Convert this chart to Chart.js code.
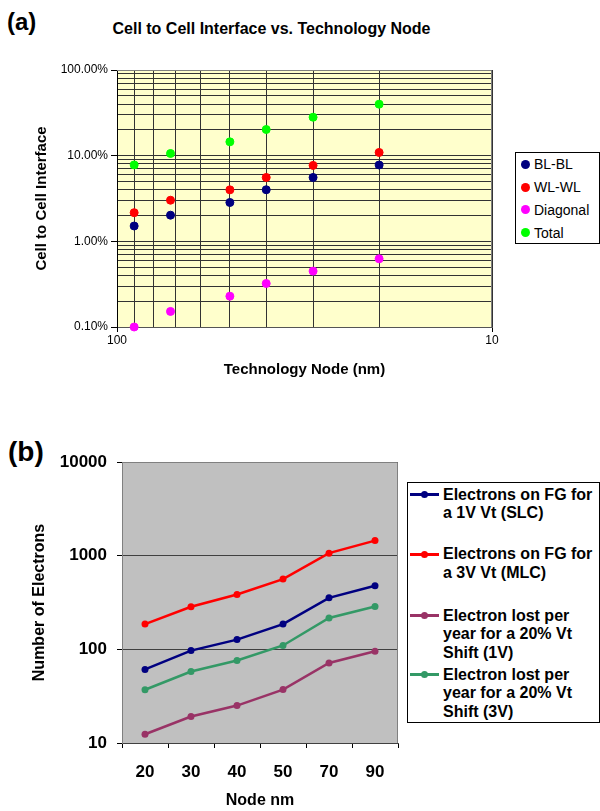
<!DOCTYPE html>
<html>
<head>
<meta charset="utf-8">
<script src="https://cdn.jsdelivr.net/npm/chart.js@4.4.1/dist/chart.umd.min.js"></script>
<style>
  body { margin: 0; background: #fff; font-family: "Liberation Sans", Arial, sans-serif; }
  #wrap { position: relative; width: 600px; height: 811px; overflow: hidden; }
  canvas { position: absolute; left: 0; }
  .tag { position: absolute; font-weight: bold; line-height: 1; color: #000; }
  .title { position: absolute; left: 0; width: 543px; text-align: center; font-weight: bold; font-size: 16px; line-height: 19px; }
  .legend { position: absolute; border: 1px solid #000; background: #fff; box-sizing: border-box; }
  .legend .row { position: absolute; white-space: nowrap; color: #000; }
  .dot { position: absolute; border-radius: 50%; }
  .swatch { position: absolute; height: 3px; }
</style>
</head>
<body>
<div id="wrap">
  <div class="tag" style="left:7px;top:10px;font-size:24px;">(a)</div>
  <div class="title" style="top:19px;">Cell to Cell Interface vs. Technology Node</div>
  <canvas id="chartA" width="600" height="400" style="top:0"></canvas>
  <div class="legend" id="legA" style="left:515px;top:152px;width:85px;height:92px;"></div>

  <div class="tag" style="left:8px;top:438px;font-size:28px;">(b)</div>
  <canvas id="chartB" width="600" height="400" style="top:411px"></canvas>
  <div class="legend" id="legB" style="left:407px;top:482px;width:193px;height:241px;"></div>
</div>
<script>
// ---- chart (a) data: technology node (nm) vs cell to cell interface (%)
const nodesA = [90, 72, 50, 40, 30, 20];
const blbl = [1.51, 2.02, 2.84, 4.0, 5.57, 7.78];
const wlwl = [2.16, 3.02, 3.99, 5.57, 7.7, 10.9];
const diagonal = [0.10, 0.152, 0.229, 0.322, 0.449, 0.625];
const total = [7.8, 10.6, 14.5, 20.2, 28.1, 39.9];
const seriesA = ['BL-BL', 'WL-WL', 'Diagonal', 'Total'];
const yMajorA = [0.1, 1, 10, 100];
const yLabelsA = ['0.10%', '1.00%', '10.00%', '100.00%'];
const xMajorA = [10, 100];
const xLabelsA = ['10', '100'];

// ---- chart (b) data: number of electrons per node
const nodesB = ['20', '30', '40', '50', '70', '90'];
const slc = [61, 97, 127, 186, 355, 477];
const mlc = [186, 285, 385, 562, 1064, 1448];
const lost1V = [12.4, 19.2, 25.1, 37.2, 71.6, 95.2];
const lost3V = [37, 58, 76, 110, 216, 287];
const seriesB = [
  ['Electrons on FG for', 'a 1V Vt (SLC)'],
  ['Electrons on FG for', 'a 3V Vt (MLC)'],
  ['Electron lost per', 'year for a 20% Vt', 'Shift (1V)'],
  ['Electron lost per', 'year for a 20% Vt', 'Shift (3V)']
];
const yTicksB = [10, 100, 1000, 10000];

Chart.defaults.font.family = '"Liberation Sans", Arial, sans-serif';
Chart.defaults.color = '#000';

const isMajor = v => Math.abs(Math.log10(v) - Math.round(Math.log10(v))) < 1e-6;
const near = (a, b) => Math.abs(a - b) / b < 1e-6;

// log grid: 1..9 in every decade between lo and hi
function logGrid(lo, hi) {
  const out = [];
  for (let d = lo; d < hi * 0.999; d *= 10) {
    for (let m = 1; m < 10; m++) out.push(Number((m * d).toPrecision(6)));
  }
  out.push(hi);
  return out;
}

// fills the plot area and draws the top / right frame
const plotBox = {
  id: 'plotBox',
  beforeDraw(chart, args, opts) {
    const { ctx, chartArea: a } = chart;
    ctx.save();
    ctx.fillStyle = opts.fill;
    ctx.fillRect(a.left, a.top, a.width, a.height);
    ctx.restore();
  },
  beforeDatasetsDraw(chart, args, opts) {
    const { ctx, chartArea: a } = chart;
    ctx.save();
    ctx.strokeStyle = opts.border;
    ctx.lineWidth = 1;
    ctx.beginPath();
    ctx.moveTo(a.left, a.top + 0.5);
    ctx.lineTo(a.right - 0.5, a.top + 0.5);
    ctx.lineTo(a.right - 0.5, a.bottom);
    ctx.stroke();
    ctx.restore();
  }
};

const colorsA = ['#000080', '#FF0000', '#FF00FF', '#00FF00'];
const valuesA = [blbl, wlwl, diagonal, total];

const chartA = new Chart(document.getElementById('chartA'), {
  type: 'scatter',
  data: {
    datasets: seriesA.map((name, k) => ({
      label: name,
      data: nodesA.map((x, i) => ({ x: x, y: valuesA[k][i] })),
      backgroundColor: colorsA[k],
      borderColor: colorsA[k],
      pointRadius: 4,
      pointBorderWidth: 1,
      clip: false
    }))
  },
  options: {
    responsive: false,
    animation: false,
    layout: { padding: { top: 70, right: 108, left: 0, bottom: 0 } },
    plugins: {
      legend: { display: false },
      tooltip: { enabled: false },
      plotBox: { fill: '#FFFFCC', border: '#808080' }
    },
    scales: {
      x: {
        type: 'logarithmic',
        reverse: true,
        min: 10,
        max: 100,
        afterBuildTicks: s => { s.ticks = logGrid(10, 100).map(v => ({ value: v })); },
        afterFit: s => { s.height = 73; },
        grid: {
          color: '#333',
          tickLength: 5,
          tickColor: c => isMajor(c.tick.value) ? '#000' : 'rgba(0,0,0,0)'
        },
        border: { color: '#555' },
        ticks: {
          autoSkip: false,
          maxRotation: 0,
          padding: 1,
          font: { size: 12 },
          callback: v => {
            const i = xMajorA.findIndex(m => near(v, m));
            return i >= 0 ? xLabelsA[i] : '';
          }
        },
        title: {
          display: true,
          text: 'Technology Node (nm)',
          font: { size: 15, weight: 'bold' },
          padding: { top: 0, bottom: 21 }
        }
      },
      y: {
        type: 'logarithmic',
        min: 0.1,
        max: 100,
        afterBuildTicks: s => { s.ticks = logGrid(0.1, 100).map(v => ({ value: v })); },
        afterFit: s => { s.width = 117; },
        grid: {
          color: '#333',
          tickLength: 6,
          tickColor: c => isMajor(c.tick.value) ? '#000' : 'rgba(0,0,0,0)'
        },
        border: { color: '#000' },
        ticks: {
          autoSkip: false,
          padding: 3,
          font: { size: 12 },
          callback: v => {
            const i = yMajorA.findIndex(m => near(v, m));
            return i >= 0 ? yLabelsA[i] : '';
          }
        },
        title: {
          display: true,
          text: 'Cell to Cell Interface',
          font: { size: 15, weight: 'bold' },
          padding: { top: 33, bottom: 0 }
        }
      }
    }
  },
  plugins: [plotBox]
});

const colorsB = ['#000080', '#FF0000', '#993366', '#339966'];
const valuesB = [slc, mlc, lost1V, lost3V];

const chartB = new Chart(document.getElementById('chartB'), {
  type: 'line',
  data: {
    labels: nodesB,
    datasets: seriesB.map((lines, k) => ({
      label: lines.join(' '),
      data: valuesB[k],
      borderColor: colorsB[k],
      backgroundColor: colorsB[k],
      borderWidth: 2.5,
      pointRadius: 3.5,
      pointBorderWidth: 0,
      tension: 0,
      clip: false
    }))
  },
  options: {
    responsive: false,
    animation: false,
    layout: { padding: { top: 51, right: 202, left: 0, bottom: 0 } },
    plugins: {
      legend: { display: false },
      tooltip: { enabled: false },
      plotBox: { fill: '#C0C0C0', border: '#808080' }
    },
    scales: {
      x: {
        type: 'category',
        offset: true,
        afterFit: s => { s.height = 68; },
        grid: { offset: true, drawOnChartArea: false, tickLength: 5, tickColor: '#000' },
        border: { color: '#404040' },
        ticks: { padding: 14, maxRotation: 0, font: { size: 17, weight: 'bold' } },
        title: {
          display: true,
          text: 'Node nm',
          font: { size: 16, weight: 'bold' },
          padding: { top: 0, bottom: 1 }
        }
      },
      y: {
        type: 'logarithmic',
        min: 10,
        max: 10000,
        afterBuildTicks: s => { s.ticks = yTicksB.map(v => ({ value: v })); },
        afterFit: s => { s.width = 122; },
        grid: { color: '#404040', tickLength: 5, tickColor: '#000' },
        border: { color: '#808080' },
        ticks: {
          autoSkip: false,
          padding: 10,
          font: { size: 17, weight: 'bold' },
          callback: v => String(v)
        },
        title: {
          display: true,
          text: 'Number of Electrons',
          font: { size: 16, weight: 'bold' },
          padding: { top: 30, bottom: 0 }
        }
      }
    }
  },
  plugins: [plotBox]
});

// html legends
const legA = document.getElementById('legA');
chartA.data.datasets.forEach((ds, i) => {
  const cy = 11.3 + i * 22.8;
  const dot = document.createElement('div');
  dot.className = 'dot';
  dot.style.cssText = `left:5px;top:${cy - 4.5}px;width:9px;height:9px;background:${ds.backgroundColor}`;
  legA.appendChild(dot);
  const row = document.createElement('div');
  row.className = 'row';
  row.style.cssText = `left:18px;top:${cy - 8}px;font-size:14px;line-height:16px;`;
  row.textContent = ds.label;
  legA.appendChild(row);
});

const legB = document.getElementById('legB');
const rowTopsB = [2.6, 62, 123.6, 182.6];
seriesB.forEach((lines, i) => {
  const top = rowTopsB[i];
  const cy = top + 9;
  const sw = document.createElement('div');
  sw.className = 'swatch';
  sw.style.cssText = `left:2px;top:${cy - 1.5}px;width:29px;background:${colorsB[i]}`;
  legB.appendChild(sw);
  const dot = document.createElement('div');
  dot.className = 'dot';
  dot.style.cssText = `left:13px;top:${cy - 3.5}px;width:7px;height:7px;background:${colorsB[i]}`;
  legB.appendChild(dot);
  const row = document.createElement('div');
  row.className = 'row';
  row.style.cssText = `left:35px;top:${top}px;font-size:16px;line-height:18.7px;font-weight:bold;`;
  row.innerHTML = lines.map(t => t.replace(/&/g, '&amp;').replace(/</g, '&lt;')).join('<br>');
  legB.appendChild(row);
});
</script>
</body>
</html>
